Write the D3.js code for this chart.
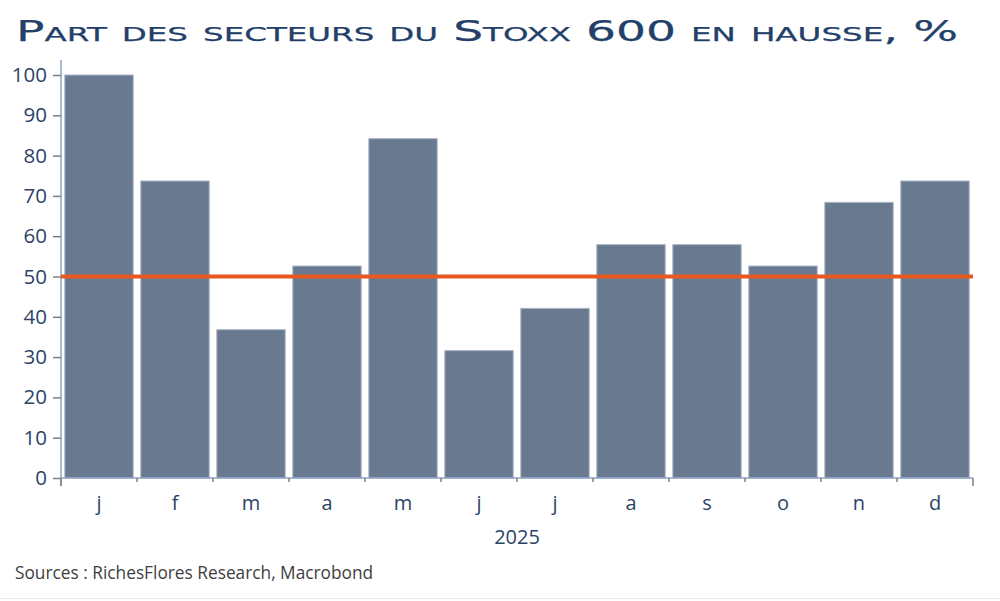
<!DOCTYPE html>
<html>
<head>
<meta charset="utf-8">
<script src="https://cdn.jsdelivr.net/npm/d3@7"></script>
<style>
  body { margin: 0; background: #fff; }
  svg { display: block; }
</style>
</head>
<body>
<div id="chart"></div>
<script>
// part des secteurs en hausse, par mois
const months = ['j', 'f', 'm', 'a', 'm', 'j', 'j', 'a', 's', 'o', 'n', 'd'];
const shares = [100, 73.7, 36.8, 52.6, 84.2, 31.6, 42.1, 57.9, 57.9, 52.6, 68.4, 73.7];
const yTicks = [0, 10, 20, 30, 40, 50, 60, 70, 80, 90, 100];
const threshold = 50;
const yearLabel = '2025';

const W = 1000, H = 601;
const margin = {left: 61, right: 27, top: 75, bottom: 123};
const FONT = '"Open Sans", "Liberation Sans", sans-serif';

const svg = d3.select('#chart').append('svg')
  .attr('width', W)
  .attr('height', H);

svg.append('text')
  .attr('x', 16)
  .attr('y', 41)
  .attr('textLength', 942)
  .attr('lengthAdjust', 'spacingAndGlyphs')
  .style('font-family', '"DejaVu Sans", sans-serif')
  .style('font-variant', 'small-caps')
  .style('font-size', '29px')
  .style('fill', '#23406a')
  .style('stroke', '#23406a')
  .style('stroke-width', 0.25)
  .text('Part des secteurs du Stoxx 600 en hausse, %');

const x = d3.scaleBand()
  .domain(d3.range(months.length))
  .range([margin.left, W - margin.right])
  .paddingInner(0.1)
  .paddingOuter(0.05);

const y = d3.scaleLinear()
  .domain([0, 100])
  .range([H - margin.bottom, margin.top]);

const g = svg.append('g');

// bars
g.selectAll('rect.bar')
  .data(shares)
  .enter()
  .append('rect')
  .attr('class', 'bar')
  .attr('x', (d, i) => x(i))
  .attr('y', d => y(d))
  .attr('width', x.bandwidth())
  .attr('height', d => y(0) - y(d))
  .attr('fill', '#687990')
  .attr('stroke', '#a9b6c8')
  .attr('stroke-width', 1);

// y axis
const yAxis = d3.axisLeft(y)
  .tickValues(yTicks)
  .tickSize(8)
  .tickPadding(6);

const ya = svg.append('g')
  .attr('transform', `translate(${margin.left},0)`)
  .call(yAxis);
ya.select('.domain')
  .attr('stroke', '#8fa5c4')
  .attr('stroke-width', 1.5)
  .attr('d', `M0,${y(0) + 8}V${margin.top - 15}`);
ya.selectAll('.tick line').attr('stroke', '#7f7f7f').attr('stroke-width', 1.5);
ya.selectAll('.tick text')
  .style('font-family', FONT)
  .style('font-size', '20.5px')
  .style('fill', '#2b4466');

// x axis
const xBounds = d3.range(months.length + 1).map(i => margin.left + i * (W - margin.right - margin.left) / months.length);
const xa = svg.append('g');
xa.append('line')
  .attr('x1', margin.left)
  .attr('x2', W - margin.right)
  .attr('y1', y(0))
  .attr('y2', y(0))
  .attr('stroke', '#8fa5c4')
  .attr('stroke-width', 1.5);
xa.selectAll('line.tk')
  .data(xBounds)
  .enter()
  .append('line')
  .attr('class', 'tk')
  .attr('x1', d => d)
  .attr('x2', d => d)
  .attr('y1', y(0))
  .attr('y2', (d, i) => i === 0 || i === months.length ? y(0) + 8 : y(0) + 4)
  .attr('stroke', '#7f7f7f')
  .attr('stroke-width', 1.5);
xa.selectAll('text.lbl')
  .data(months)
  .enter()
  .append('text')
  .attr('class', 'lbl')
  .attr('x', (d, i) => x(i) + x.bandwidth() / 2)
  .attr('y', y(0) + 32)
  .attr('text-anchor', 'middle')
  .style('font-family', FONT)
  .style('font-size', '20px')
  .style('fill', '#2b4466')
  .text(d => d);
xa.append('text')
  .attr('x', (margin.left + W - margin.right) / 2)
  .attr('y', y(0) + 66)
  .attr('text-anchor', 'middle')
  .style('font-family', FONT)
  .style('font-size', '20px')
  .style('fill', '#2b4466')
  .text(yearLabel);

// seuil 50%
svg.append('line')
  .attr('x1', margin.left)
  .attr('x2', W - margin.right)
  .attr('y1', y(threshold))
  .attr('y2', y(threshold))
  .attr('stroke', '#e8581f')
  .attr('stroke-width', 4);

svg.append('text')
  .attr('x', 15)
  .attr('y', 579)
  .style('font-family', FONT)
  .style('font-size', '17.3px')
  .style('fill', '#404040')
  .text('Sources : RichesFlores Research, Macrobond');

svg.append('line')
  .attr('x1', 0).attr('x2', W)
  .attr('y1', 598.5).attr('y2', 598.5)
  .attr('stroke', '#ececec');
</script>
</body>
</html>
